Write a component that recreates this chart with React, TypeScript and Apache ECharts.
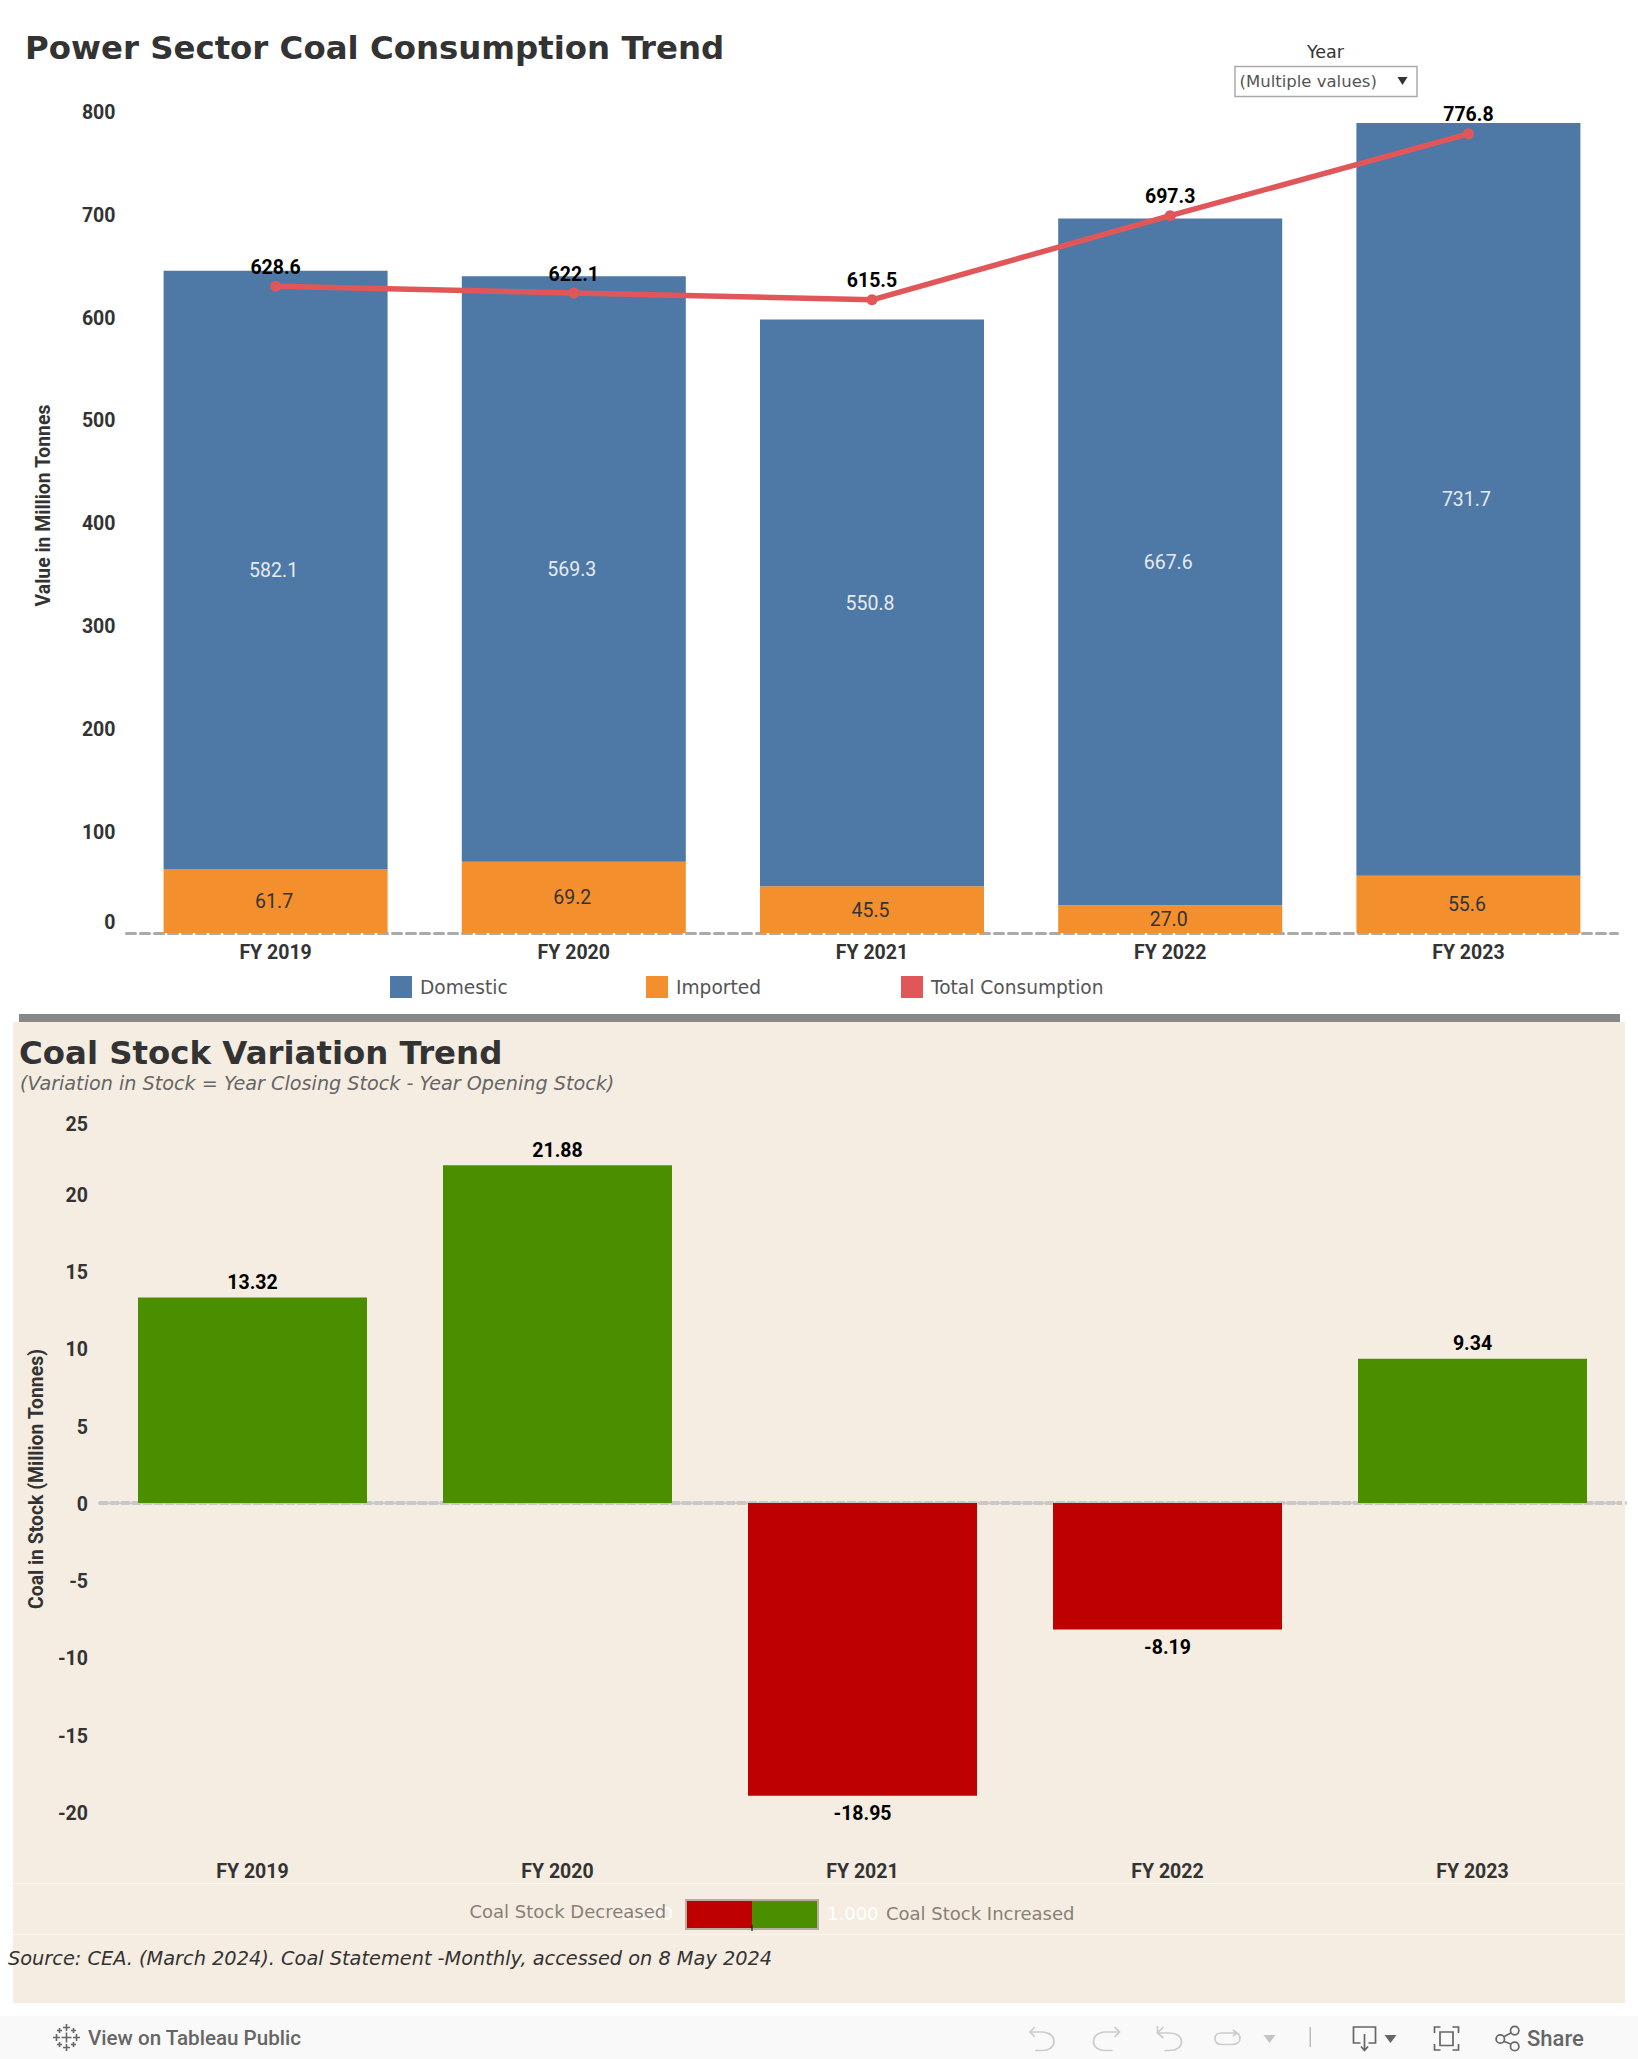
import React, { useEffect, useRef } from "react";
import * as echarts from "echarts";

const years = ["FY 2019", "FY 2020", "FY 2021", "FY 2022", "FY 2023"];
const domestic = [582.1, 569.3, 550.8, 667.6, 731.7];
const imported = [61.7, 69.2, 45.5, 27.0, 55.6];
const totalConsumption = [628.6, 622.1, 615.5, 697.3, 776.8];
const stockVariation = [13.32, 21.88, -18.95, -8.19, 9.34];

const BLUE = "#4e79a7";
const ORANGE = "#f38f2d";
const LINE_RED = "#e15759";
const GREEN = "#4a8f00";
const DARK_RED = "#bf0000";
const BEIGE = "#f5ede2";
const ROBOTO = "Roboto";
const DEJAVU = '"DejaVu Sans"';

const plus = (x: number, y: number, r: number) =>
  `M${x - r} ${y}H${x + r}M${x} ${y - r}V${y + r}`;

const ICONS: Record<string, string> = {
  tabLogo: [
    plus(13.5, 13.5, 5),
    plus(13.5, 3.5, 3.5),
    plus(13.5, 23.5, 3.5),
    plus(3.5, 13.5, 3.5),
    plus(23.5, 13.5, 3.5),
    plus(6.5, 6.5, 2.5),
    plus(20.5, 6.5, 2.5),
    plus(6.5, 20.5, 2.5),
    plus(20.5, 20.5, 2.5),
  ].join(""),
  undoIcon: "M1 6H13C20 6 25 10 25 15.5C25 21 20 24.5 13 24.5H6M6 1L1 6L6 11",
  redoIcon: "M27 6H13C6 6 1 10 1 15.5C1 21 6 24.5 13 24.5H20M22 1L27 6L22 11",
  revertIcon: "M1 0V7H12C20 7 25 10 25 16C25 21 20 24.5 13 24.5H8M7 1L1 7L7 12",
  refreshIcon: "M22 3H8C3 3 1 5 1 8.5C1 12 3 14.5 8 14.5H18C23 14.5 26 12 26 8.5C26 6 25 4 23 3M19 0L23 3L19 6",
  downloadIcon: "M8 17H1V1H23V17H16M12 8V24M8.5 20.5L12 24.5L15.5 20.5",
  fullscreenIcon:
    "M1 7V1H7M19 1H25V7M25 18V24H19M7 24H1V18M6.5 6H19.5V19.5H6.5Z",
  shareIcon:
    "M9 13A4.2 4.2 0 1 1 0.6 13A4.2 4.2 0 1 1 9 13ZM23.4 4.6A4.2 4.2 0 1 1 15 4.6A4.2 4.2 0 1 1 23.4 4.6ZM23.4 20.4A4.2 4.2 0 1 1 15 20.4A4.2 4.2 0 1 1 23.4 20.4ZM8.2 10.8L15.8 6.8M8.2 15.2L15.8 18.2",
};
let registered = false;
function registerIcons() {
  if (registered) return;
  registered = true;
  Object.keys(ICONS).forEach((k) => {
    echarts.graphic.registerShape(k, echarts.graphic.extendPath(ICONS[k], {}) as any);
  });
}

const txt = (
  text: string,
  x: number,
  y: number,
  size: number,
  fill: string,
  extra: Record<string, any> = {}
) => ({
  type: "text",
  x,
  y,
  z: 5,
  silent: true,
  style: {
    text,
    fill,
    fontSize: size,
    fontFamily: DEJAVU,
    textAlign: "left",
    textVerticalAlign: "middle",
    ...extra,
  },
});

const icon = (name: string, x: number, y: number, stroke: string, lineWidth = 1.7) => ({
  type: name,
  x,
  y,
  z: 5,
  silent: true,
  style: { fill: "none", stroke, lineWidth },
});

const tri = (x: number, y: number, w: number, h: number, fill: string) => ({
  type: "polygon",
  z: 5,
  silent: true,
  shape: { points: [[x - w / 2, y - h / 2], [x + w / 2, y - h / 2], [x, y + h / 2]] },
  style: { fill },
});

const rect = (x: number, y: number, width: number, height: number, style: Record<string, any>, z = -10) => ({
  type: "rect",
  z,
  silent: true,
  shape: { x, y, width, height },
  style,
});

const axisFont = { fontFamily: ROBOTO, fontWeight: "bold" as const, fontSize: 19.5, color: "#333333" };
const tickRich = (padding: number[]) => ({ ...axisFont, padding });

function buildOption() {
  return {
    animation: false,
    backgroundColor: "#ffffff",
    title: [
      {
        text: "Power Sector Coal Consumption Trend",
        left: 25,
        top: 32,
        padding: 0,
        textStyle: { fontFamily: DEJAVU, fontWeight: "bold", fontSize: 32.4, color: "#333333" },
      },
      {
        text: "Coal Stock Variation Trend",
        left: 19,
        top: 1037,
        padding: 0,
        textStyle: { fontFamily: DEJAVU, fontWeight: "bold", fontSize: 32.4, color: "#333333" },
      },
      {
        text: "(Variation in Stock = Year Closing Stock - Year Opening Stock)",
        left: 20,
        top: 1074,
        padding: 0,
        textStyle: { fontFamily: DEJAVU, fontStyle: "italic", fontWeight: "normal", fontSize: 19.2, color: "#666666" },
      },
    ],
    legend: [
      { name: "Domestic", left: 390 },
      { name: "Imported", left: 646 },
      { name: "Total Consumption", left: 901 },
    ].map((l) => ({
      data: [l.name],
      left: l.left,
      top: 976,
      padding: 0,
      icon: "rect",
      itemWidth: 22,
      itemHeight: 22,
      itemGap: 0,
      selectedMode: false,
      textStyle: { fontFamily: DEJAVU, fontSize: 18.6, color: "#555555", padding: [0, 0, 0, 3] },
    })),
    grid: [
      { left: 126.5, top: 110, width: 1491, height: 823, containLabel: false },
      { left: 100, top: 1117, width: 1525, height: 695, containLabel: false },
    ],
    xAxis: [
      {
        type: "category",
        gridIndex: 0,
        data: years,
        axisTick: { show: false },
        axisLine: { show: true, lineStyle: { color: "#aaaaaa", width: 3, type: [9, 5] } },
        axisLabel: { ...axisFont, margin: 9.5 },
      },
      {
        type: "category",
        gridIndex: 1,
        data: years,
        axisTick: { show: false },
        axisLine: { show: true, onZero: true, lineStyle: { color: "#c8c8c8", width: 4, type: [7, 4] } },
        axisLabel: { show: false },
      },
      {
        type: "category",
        gridIndex: 1,
        position: "bottom",
        data: years,
        axisTick: { show: false },
        axisLine: { show: false, onZero: false },
        axisLabel: { ...axisFont, margin: 49 },
      },
    ],
    yAxis: [
      {
        type: "value",
        gridIndex: 0,
        min: 0,
        max: 800,
        interval: 100,
        name: "Value in Million Tonnes",
        nameLocation: "middle",
        nameGap: 74,
        nameRotate: 90,
        nameTextStyle: { fontFamily: ROBOTO, fontWeight: "bold", fontSize: 19.4, color: "#333333", padding: [0, 0, 0, 32] },
        splitLine: { show: false },
        axisLine: { show: false },
        axisTick: { show: false },
        axisLabel: {
          ...axisFont,
          margin: 11,
          formatter: (v: number) => (v === 0 ? `{z|${v}}` : `{n|${v}}`),
          rich: { n: tickRich([4.6, 0, 0, 0]), z: tickRich([0, 0, 22, 0]) },
        },
      },
      {
        type: "value",
        gridIndex: 1,
        min: -20,
        max: 25,
        interval: 5,
        name: "Coal in Stock (Million Tonnes)",
        nameLocation: "middle",
        nameGap: 54,
        nameRotate: 90,
        nameTextStyle: { fontFamily: ROBOTO, fontWeight: "bold", fontSize: 19.4, color: "#333333", padding: [0, 29, 0, 0] },
        splitLine: { show: false },
        axisLine: { show: false },
        axisTick: { show: false },
        axisLabel: {
          ...axisFont,
          margin: 12,
          formatter: (v: number) => (v === 25 ? `{t|${v}}` : `{n|${v}}`),
          rich: { n: tickRich([2.6, 0, 0, 0]), t: tickRich([14, 0, 0, 0]) },
        },
      },
    ],
    series: [
      {
        name: "Imported",
        type: "bar",
        stack: "coal",
        xAxisIndex: 0,
        yAxisIndex: 0,
        barWidth: 224,
        data: imported,
        itemStyle: { color: ORANGE },
        label: {
          show: true,
          position: "inside",
          offset: [-1.5, 0.5],
          fontFamily: ROBOTO,
          fontSize: 19.5,
          color: "#333333",
          formatter: (p: any) => Number(p.value).toFixed(1),
        },
      },
      {
        name: "Domestic",
        type: "bar",
        stack: "coal",
        xAxisIndex: 0,
        yAxisIndex: 0,
        barWidth: 224,
        data: domestic,
        itemStyle: { color: BLUE },
        label: {
          show: true,
          position: "inside",
          offset: [-2, 0.5],
          fontFamily: ROBOTO,
          fontSize: 19.5,
          color: "#e6ebf2",
          formatter: (p: any) => Number(p.value).toFixed(1),
        },
      },
      {
        name: "Total Consumption",
        type: "line",
        xAxisIndex: 0,
        yAxisIndex: 0,
        data: totalConsumption,
        symbol: "circle",
        symbolSize: 11,
        z: 5,
        lineStyle: { color: LINE_RED, width: 5.5 },
        itemStyle: { color: LINE_RED },
        label: {
          show: true,
          position: "top",
          distance: 3.5,
          fontFamily: ROBOTO,
          fontWeight: "bold",
          fontSize: 19.5,
          color: "#000000",
          formatter: (p: any) => Number(p.value).toFixed(1),
        },
      },
      {
        name: "Stock Variation",
        type: "bar",
        xAxisIndex: 1,
        yAxisIndex: 1,
        barWidth: 229,
        data: stockVariation.map((v) => ({
          value: v,
          itemStyle: { color: v >= 0 ? GREEN : DARK_RED },
          label: { position: v >= 0 ? "top" : "bottom", distance: v >= 0 ? 5 : 8 },
        })),
        label: {
          show: true,
          fontFamily: ROBOTO,
          fontWeight: "bold",
          fontSize: 19.5,
          color: "#000000",
          formatter: (p: any) => Number(p.value).toFixed(2),
        },
      },
    ],
    graphic: {
      elements: [
        // page furniture
        rect(19, 1014, 1601, 8, { fill: "#888888" }),
        rect(13, 1022, 1612, 981, { fill: BEIGE }),
        rect(13, 1883, 1612, 1, { fill: "#faf6f0" }, -9),
        rect(13, 1934, 1612, 1, { fill: "#faf6f0" }, -9),
        rect(1622, 1498, 3, 10, { fill: BEIGE }, 100),
        rect(0, 2016, 1638, 43, { fill: "#f9f9f9" }),
        // year filter
        txt("Year", 1325.5, 52, 17.5, "#333333", { textAlign: "center" }),
        rect(1235, 66.5, 182, 30, { fill: "#ffffff", stroke: "#aaaaaa", lineWidth: 1.5 }, 1),
        txt("(Multiple values)", 1239.5, 81.5, 16.5, "#555555"),
        tri(1402.5, 81, 10, 8, "#333333"),
        // colour ramp legend
        txt("-1.000", 673, 1913, 18, "#ffffff", { textAlign: "right" }),
        txt("Coal Stock Decreased", 469.5, 1911, 18, "#888077"),
        rect(686, 1900, 132, 29, { fill: "#ffffff", stroke: "#b8ae9f", lineWidth: 2 }, 1),
        rect(687, 1901, 65, 27, { fill: DARK_RED }, 2),
        rect(752, 1901, 65, 27, { fill: GREEN }, 2),
        rect(751.5, 1925, 1, 6, { fill: "#000000" }, 3),
        txt("1.000", 827, 1913, 18, "#ffffff"),
        txt("Coal Stock Increased", 886, 1913, 18, "#888077"),
        // source
        txt("Source: CEA. (March 2024). Coal Statement -Monthly, accessed on 8 May 2024", 8, 1958, 19.33, "#333333", {
          fontStyle: "italic",
        }),
        // toolbar
        icon("tabLogo", 53, 2024, "#666666", 1.6),
        txt("View on Tableau Public", 88, 2038, 20.6, "#666666", { fontFamily: ROBOTO, fontWeight: 500 }),
        icon("undoIcon", 1029, 2026, "#cccccc"),
        icon("redoIcon", 1092.5, 2026, "#cccccc"),
        icon("revertIcon", 1156.5, 2026, "#cccccc"),
        icon("refreshIcon", 1214, 2030, "#cccccc"),
        tri(1269.5, 2039, 12, 8, "#c4c4c4"),
        rect(1309.5, 2027, 1.5, 20, { fill: "#bbbbbb" }, 5),
        icon("downloadIcon", 1352.5, 2026, "#666666"),
        tri(1390.5, 2039, 12, 8, "#666666"),
        icon("fullscreenIcon", 1433.5, 2026, "#666666"),
        icon("shareIcon", 1495.5, 2026, "#666666"),
        txt("Share", 1527, 2038, 22, "#666666", { fontFamily: ROBOTO, fontWeight: 500 }),
      ],
    },
  };
}

export default function App() {
  const ref = useRef<HTMLDivElement>(null);
  useEffect(() => {
    if (!ref.current) return;
    registerIcons();
    const chart = echarts.init(ref.current, undefined, { renderer: "svg" });
    chart.setOption(buildOption() as any);
    return () => chart.dispose();
  }, []);
  return <div ref={ref} style={{ position: "absolute", left: 0, top: 0, width: 1638, height: 2059 }} />;
}
